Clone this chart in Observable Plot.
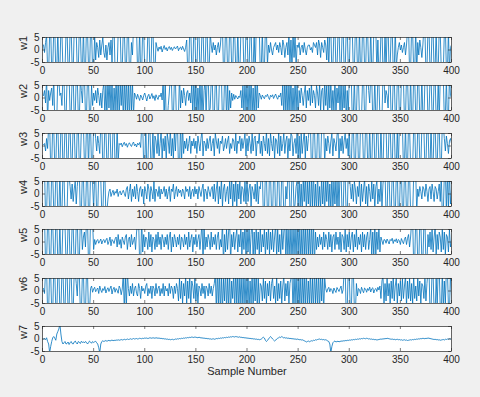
<!DOCTYPE html>
<html><head><meta charset="utf-8">
<script src="https://cdn.jsdelivr.net/npm/d3@7"></script>
<script src="https://cdn.jsdelivr.net/npm/@observablehq/plot@0.6"></script>
<style>
body{margin:0;background:#f0f0f0;}
#fig{position:relative;width:480px;height:397px;background:#f0f0f0;overflow:hidden;font-family:"Liberation Sans",Arial,sans-serif;}
#fig > div{position:absolute;left:0;}
</style></head><body><div id="fig"></div>
<script>
const seriesNames = ["w1","w2","w3","w4","w5","w6","w7"];
const xTicks = [0,50,100,150,200,250,300,350,400];
const yTicks = [-5,0,5];
const xLabel = "Sample Number";

const w1 = [2,-1,3,6,-8,-9,7,9,-9,-7, 8,9,-9,-7,8,-9,-8,9,7,-8, -9,-8,7,9,-8,-9,8,9,-7,-9, 8,9,7,-9,-8,9,8,-7,-9,9,
-8,-9,9,8,-7,-9,9,7,-8,-9, 6,-4,3,1,-3,4,-2,2,5,-1, -3,2,-4,1,3,-2,4,-5,8,9, -9,-8,-9,7,9,8,-9,-7,8,9,
-7,-9,8,9,-9,-8,3,-2,9,8, 9,8,-9,-7,8,-9,-8,9,7,-8, -9,-8,7,9,-8,-9,8,9,-7,-9, 3,1,-.5,1.2,.3,1.5,-.8,.6,1.8,.2,
1,-.4,.9,1.4,.2,1.1,-.2,.7,1.3,.4, .9,1.6,-.3,.8,1.2,.1,1.5,.4,-.6,1.1, 4,-8,-9,9,8,-7,-9,9,7,-8, -9,9,8,-9,-7,8,9,-8,-9,9,
8,-9,-8,7,2,-1,3,0,2,-2, 1,3,-1,2,8,9,-9,-8,9,7, -8,-9,9,8,-7,-9,9,7,-8,-9, 9,-8,-9,7,9,8,-9,-7,8,9,
-7,-9,8,9,-9,-8,7,-9,8,9, 9,8,-9,-7,8,-9,-8,9,7,-6, 2,-1,3,0,-2,1,2,3,0,2, -1,3,1,-2,4,2,-3,1,3,-2,
7,-6,4,-8,8,-3,6,-7,2,1, 3,-2,1,2,-1,3,0,-2,1,2, 2,0,1,-1,3,2,1,3,-2,4, 2,-3,3,1,-1,4,2,-4,6,-8,
9,8,-9,-7,8,9,-9,-8,7,9, -8,-9,7,9,-8,-9,8,9,-7,-9, 8,9,7,-9,-8,9,8,-7,-9,9, -8,-9,9,8,-7,-9,9,7,-8,-9,
9,-8,-9,7,9,8,-9,4,-9,-8, 7,9,-9,-8,7,-9,8,9,-9,-7, 8,9,-9,-8,9,-7,-2,1,3,0, 2,-1,1,3,-2,2,8,9,-9,-8,
9,7,-8,-9,9,-9,3,-2,4,1, -3,2,9,8,-9,-7,8,9,-9,-8, 9,8,-9,-7,8,-9,-8,9,7,-8, -9,-8,7,9,-8,-9,8,-9,1,2];

const w2 = [1,3,-2,8,-9,3,-1,2,4,-3, 8,-9,-7,-8,9,7,1,2,-3,9, 8,-8,-9,7,8,9,-7,-8,9,9, -8,-7,9,8,-7,-9,8,3,-2,8,
9,-7,-8,9,7,-8,-6,5,-3,2, -1,3,-2,4,1,-3,2,-4,3,6, -7,5,-8,9,-4,7,-6,8,-9,4, -5,8,-7,9,-8,6,-3,7,-9,8,
-6,9,-8,7,-9,8,-5,6,-7,2, 1,-.5,1.5,.2,-1,1.2,.4,-.8,1,2, .3,-1.2,.8,1.5,-.4,.6,1.8,-.2,.9,-1, 1.3,.2,-.6,1.1,.5,2,-.8,8,-9,7,
-8,-9,-3,2,9,8,-7,-9,8,7, -9,-8,-6,9,-4,3,-2,4,1,-3, 2,3,-1,2,-2,6,-7,8,-5,7, -8,4,-6,9,-7,5,-8,3,7,-6,
8,9,-6,-4,7,8,-9,-9,8,7, -9,-8,7,9,8,-9,-9,7,8,-9, 7,-8,3,-4,2,-1,1.5,-.5,1,.3, -.4,.8,.2,3,-4,5,-6,7,-5,6,
-8,7,-6,9,-7,4,-8,6,-5,8, -4,2,1,-.5,1.2,.4,-.3,1,.6,1.5, .2,-.6,1.1,.5,1.3,-.2,.8,1.6,.3,-.5, 1,.4,2,-3,6,-8,9,-7,8,-9,
7,-6,9,-8,4,-7,8,-5,6,-9, 3,-2,4,1,-3,2,5,-4,3,-1, 4,-3,6,-2,3,1,-4,5,2,-3, 6,-5,3,4,-6,7,-3,5,-8,6,
-4,7,-6,3,-5,8,-7,4,-2,6, -7,9,-8,5,-4,8,-9,3,-6,7, 9,8,-9,-7,8,-9,-8,9,7,-8, -9,-8,7,9,-8,-9,8,9,3,-2,
9,8,-9,-7,8,-9,-8,9,7,-8, -9,-8,9,9,-2,3,1,-4,8,9, -9,-8,7,9,-8,-9,8,9,-7,-9, 8,9,7,-9,-8,9,8,-7,-9,9,
-8,-9,9,8,-7,-9,9,7,-8,-9, 9,-8,-9,7,9,8,-9,-7,8,9, -7,-9,8,9,-9,-8,7,-9,8,9, 9,8,-9,-7,8,-9,-8,9,1,0];

const w3 = [.5,1,-2,3,-1,8,9,-9,-8,9, 7,-8,-9,9,8,-7,-9,8,9,-9, -7,8,9,-9,-8,9,7,-8,-7,9, 8,-7,-9,8,9,-9,-8,7,9,8,
-7,-9,8,8,-9,7,8,-9,-7,8, 9,3,-2,4,1,-3,8,9,-9,-8, 9,7,-8,-9,9,8,-7,-9,8,9, -9,-7,8,-6,1,.5,1.2,-.3,.8,1.5,
.2,1,-.5,.7,1.3,.4,-.2,.9,1.6,.1, .8,-.4,1.1,.5,1.4,-.6,8,9,-9,-8, 9,-9,-8,7,9,-8,-6,7,-9,4, 2,-3,5,-4,1,6,-5,3,-2,4,
-6,5,2,-3,7,-4,3,-5,6,-2, 8,9,-9,-8,9,-7,8,-3,2,-1, 3,-2,1,4,-3,2,0,3,-1,2, -3,4,1,-2,3,6,-4,2,1,-2,
3,-1,2,4,-2,1,3,-4,5,2, -1,3,-3,2,1,4,-2,0,3,-1, 2,4,-3,1,-1,3,2,-2,5,-3, 2,1,4,-2,3,-1,2,5,-4,3,
-2,4,1,-3,5,-2,3,4,-4,2, 1,5,-3,2,-4,4,1,-2,6,-3, 3,-4,5,1,-2,4,-5,3,2,-3, 6,-4,4,-2,1,5,-3,2,4,-5,
3,-2,5,4,-4,1,3,-3,6,-5, 4,-6,5,-3,2,6,-5,4,-2,3, 8,9,-9,-8,9,7,-8,-9,7,8, -9,-8,7,9,8,-7,3,-2,4,1,
-3,2,5,-4,3,1,-2,4,8,-7, 3,-2,4,-3,2,5,-1,3,-4,8, -9,-8,7,9,-8,-9,8,9,-7,-9, 8,9,7,-9,-8,9,8,-7,-9,9,
-8,-9,9,8,-7,-9,9,7,-8,-9, 9,-8,-9,7,9,8,-9,-7,8,9, -7,-9,8,9,-9,-8,7,-9,8,9, 9,8,-9,-7,8,-9,-8,9,7,-8,
-9,-8,7,9,-8,-9,8,9,-7,-9, 8,9,7,-9,-8,9,8,-7,-9,9, -8,-9,9,8,-7,-9,9,7,-8,-9, 9,8,3,-2,4,1,-3,2,3,1];

const w4 = [8,9,-9,-8,9,7,-8,-9,9,8, -7,-9,8,9,-9,-8,9,-9,-7,8, 8,-9,-7,-8,9,7,3,-2,4,-3, 2,5,-4,3,8,9,-9,-8,9,7,
-8,-9,7,9,-9,-9,8,7,4,-6, 7,8,-9,-7,8,9,6,-8,-9,7, 8,-9,-7,-2,1,2,-1,.5,1.5,-.5, 1,.3,2,-1,.8,1.2,-.4,.6,1.5,.2,
-1,2,3,-2,1,4,-3,2,-1,3, -2,4,1,-3,2,3,-1,2,-4,3, 1,-2,4,2,-3,3,1,-2,5,-3, 2,1,-1,3,-2,2,0,1,3,-1,
2,-2,1,3,-3,2,1,4,-2,1, 3,-1,2,.5,1.5,-1,2,1,-2,3, 1,2,-1,3,-2,1,2,-1,3,0, 2,-2,3,1,-1,2,4,-3,2,1,
-2,3,1,-1,2,3,-2,4,-3,2, 5,-4,3,-2,6,-5,2,4,-3,1, 3,-4,5,-2,7,-6,4,-3,6,-5, 4,-2,5,-4,3,2,-3,5,-4,6,
-3,2,4,-5,3,1,-2,4,-3,5, -4,3,2,8,9,-9,-8,9,7,-8, -9,9,8,-7,-9,8,9,-9,-8,8, 9,-7,-8,9,7,-8,-9,3,-2,8,
9,-7,-8,9,8,-7,-4,3,5,-6, 7,-5,4,-8,6,-3,8,-7,5,-4, 6,-8,7,-5,9,-6,4,-7,8,-5, 3,-6,7,-4,5,-8,6,-3,7,-5,
4,-7,8,-6,5,-4,7,-8,6,-5, 8,9,-9,-8,9,7,-8,-9,9,8, 3,-2,4,-3,5,2,-4,3,-1,6, -5,4,-3,2,6,-4,3,-5,4,1,
-3,5,-2,4,-6,3,5,-4,2,-3, 6,-5,4,8,9,-9,-8,9,7,-8, -9,9,8,-7,-9,8,9,-9,-8,8, 9,-7,-8,9,7,-8,-9,9,8,-7,
-9,-8,7,9,8,-7,2,-1,3,1, -2,3,2,-1,4,1,-3,2,3,-2, 4,1,-3,3,2,-2,1,4,-3,8, -9,-7,8,9,-7,8,-6,9,-4,2];

const w5 = [8,9,-9,-8,9,7,-8,-9,9,8, -7,-9,8,9,-9,-8,8,-9,-7,8, 9,7,-8,-9,7,8,-9,-9,8,7, -9,-8,7,9,-8,-8,9,7,-3,2,
4,-2,8,9,-9,-8,9,7,8,-3, 1,-1,.5,1,-.5,.3,1.2,-.8,.6,1, -.3,.8,1.5,-1,.2,2,-1.5,1,.4,-.6, 1.3,2,-2,3,-1,1,-2.5,2,.5,-1,
2,3,-3,1,2,-2,3,-1,.5,2, -3,4,8,9,-9,-8,9,-4,3,-2, 2,1,-3,4,-2,3,-4,2,1,-3, 3,-2,4,-1,2,-3,3,1,-2,2,
-1,3,-3,2,4,-4,2,-2,3,1, -2,2,-1,3,-3,2,1,-2,3,-1, 2,-3,4,-2,1,3,-4,2,-1,3, -2,1,3,-3,2,8,-9,7,-3,2,
-2,3,1,-3,4,-2,2,-1,3,-3, 2,4,-3,1,-2,8,-9,3,-4,5, -3,4,9,-8,3,-2,4,-3,2,5, -4,3,-2,6,-5,4,-3,8,-7,5,
-4,6,-5,3,9,-8,4,-6,5,-3, 4,-5,6,-4,3,-2,5,-6,4,-3, 6,-5,4,-3,5,-4,2,7,-6,5, -4,3,-5,6,-3,4,8,-9,7,-6,
5,-7,8,-9,6,-5,7,-8,9,-6, 8,-7,5,-8,9,-6,7,-9,8,-5, 6,-8,9,-7,8,-9,4,-3,2,-2, 3,-1,2,-3,4,-2,3,1,-3,4,
-2,3,-4,2,3,-3,4,-1,2,-3, 4,-4,3,2,-3,5,-4,3,-2,4, -3,2,4,-4,3,-2,5,-3,2,-1, 3,-4,4,-2,3,-3,2,4,-3,1,
6,-5,4,-6,7,-5,4,-3,6,-4, 2,.5,-1,1,.8,-.5,1.2,.3,-.8,1, .5,1.5,-.6,.9,.2,1.3,-.4,1,.6,-1, 1.4,.3,-.7,1.1,2,-1,1.5,3,-2,2,
8,9,-9,-8,9,7,-8,-9,9,8, -7,-9,8,9,-9,-8,3,-2,4,-3, 5,-4,2,6,-5,3,-3,4,2,-4, 5,-3,4,-5,3,2,-4,5,-2,1];

const w6 = [1,-1,8,9,-9,-8,9,7,-8,-9, 9,8,-7,-9,8,9,-9,-8,8,9, -7,-8,9,9,-8,-7,9,8,-7,-9, 8,8,3,-2,9,7,-8,-9,7,8,
-9,-9,8,7,-9,-8,1,2,-.5,.8, 1.5,-.3,.6,1.2,-1,2,.4,-.6,1,.2, 1.8,-.8,.5,1.3,-.2,1,2,-1.2,.7,1.5, -.5,1,.3,-.9,2,1,-1.5,.8,7,-8,
6,-7,8,1,-2,2,-1,3,-2,1, 2,-1,-2,3,1,-3,2,0,1,-1, 2,3,-2,1,-1,2,-3,2,1,-2, 3,-1,1,2,-2,1,-1,3,-2,2,
0,1,-2,3,-1,2,1,-3,2,-1, 3,1,-4,5,-3,4,-5,3,-2,6, -5,4,-3,5,-6,4,2,-3,5,-4, 3,-5,2,1,-2,3,-1,2,-3,2,
1,-2,3,-1,2,-2,1,3,7,-8, 9,-7,8,-9,7,-8,5,-4,9,-8, 6,-7,8,-9,4,-3,7,-8,9,-6, 8,-9,7,-5,6,-8,9,-7,5,-6,
8,-9,4,-5,7,-8,6,-4,9,-7, 5,-6,3,2,-4,5,-3,4,-5,3, -2,4,-4,3,5,-3,2,-5,6,-4, 3,-3,4,-5,2,6,-4,3,-2,4,
-5,3,5,8,-9,7,-6,9,-8,5, -7,8,-9,6,-5,7,-8,9,-6,4, -6,8,-7,5,-8,9,-5,6,-7,8, -9,7,-4,6,-8,5,1,-.5,.8,1.5,
-.3,1,.5,-1,1.2,.2,-.6,1.4,.6,-.2, 1,2,-1,.5,8,9,-9,-8,9,7, -8,-9,9,8,-7,-9,3,-2,1,.5, -1,1.5,.3,-.7,1.2,.8,-.5,1,.2,1.6,
-.4,.9,1.3,-.8,.6,1,-.2,1.5,.4,2, -3,4,6,-5,3,-4,5,-2,3,-5, 4,-3,6,-4,2,5,-5,3,-2,4, -4,5,-3,2,6,-6,4,-3,5,-4,
3,-5,6,-3,2,-4,5,-2,4,-5, 3,2,-3,5,-4,3,8,9,-9,-8, 9,7,-8,-9,5,-6,9,8,-7,-9, 8,-7,4,-5,9,8,-6,-9,8,-2];

const w7 = [0,.2,-.3,.5,-1,-2,-5.5,-3,-1,.5, 1,.3,-.5,2,3,4,6,2,-1,-2, -1.5,-1,-2,-1.8,-1.2,-2.2,-1.5,-1,-1.8,-2, -1.2,-.8,-1.5,-2,-1,-1.3,-1.8,-.9,-1.4,-1.1,
-1.6,-1,-1.3,-2,-1.5,-.8,-1.2,-1.7,-1,-1.4, -1.1,-.9,-1.5,-2,-3.5,-5.5,-2,-1,-.7,-1, -.8,-.6,-.9,-.7,-.5,-.8,-.6,-.4,-.7,-.5, -.6,-.4,-.5,-.3,-.5,-.4,-.2,-.4,-.3,-.1,
-.3,-.2,0,-.2,-.1,.1,-.1,0,.2,0, .1,.2,0,.1,.3,.2,.1,.3,.2,.4, .3,.4,.2,.3,.5,.4,.3,.5,.4,.3, .5,.4,.3,.4,.2,.3,.1,.2,0,.1,
-.1,0,-.2,-.1,-.3,-.2,-.1,-.3,-.2,0, -.1,.1,0,.2,.1,.3,.2,.4,.3,.5, .4,.6,.5,.7,.6,.8,.7,.6,.8,.7, .6,.5,.7,.6,.4,.5,.3,.4,.2,.3,
.1,.2,0,.1,-.1,0,.1,-.1,0,.2, .1,.3,.2,.4,.3,.5,.4,.6,.5,.7, .6,.8,.7,.9,.8,1,.9,.8,1,.9, .8,.7,.9,.6,.7,.5,.6,.4,.5,.3,
.4,.2,.3,.1,.2,0,.1,-.1,0,-.2, -.1,-.3,-.2,0,.3,.8,.4,-.5,-1,-.6, 0,.5,1,.6,0,-.4,-.8,-.5,0,.3, .5,.8,.6,1,.7,.4,.6,.3,.5,.2,
.4,.1,.3,0,.2,-.1,.1,-.2,0,-.1, -.3,-.2,-.4,-.3,-.5,-.7,-.9,-1.2,-1,-.8, -1.1,-.9,-.7,-.8,-.5,-.6,-.3,-.4,-.2,-.1, 0,-.2,-.1,-.3,-.2,-.4,-.3,-.5,-.8,-1,
-2,-5.5,-3,-1.5,-1,-.8,-1.2,-1,-.9,-1.1, -1,-.8,-.9,-.7,-.8,-.6,-.7,-.5,-.6,-.4, -.5,-.3,-.4,-.2,-.3,-.1,-.2,0,-.1,.1, 0,.2,.1,.3,.2,.1,.3,.2,0,.1,
-.1,0,-.2,-.1,-.3,-.2,-.4,-.3,-.2,-.1, 0,-.1,.1,0,.2,.1,.3,.2,.1,0, -.1,0,-.2,-.1,-.3,-.2,-.1,-.3,-.2,-.4, -.3,-.5,-.4,-.3,-.5,-.4,-.6,-.5,-.4,-.3,
-.4,-.2,-.3,-.1,-.2,0,-.1,.1,0,.2, .1,.3,.2,.1,.3,.2,.4,.3,.2,.1, 0,-.1,-.2,-.1,-.3,-.2,-.4,-.3,-.5,-.4, -.3,-.2,-.4,-.1,-.2,0,-.1,.1,0,.1];

const series = [w1,w2,w3,w4,w5,w6,w7];
const fig = document.getElementById("fig");
const font = "'Liberation Sans', Arial, Helvetica, sans-serif";
const ink = "#262626";
const top0 = 36.5, step = 48.2, plotH = 25, mL = 42, mR = 29, W = 480;
const innerW = W - mL - mR;

series.forEach((vals, i) => {
  const last = i === series.length - 1;
  const mB = last ? 40 : 22;
  const data = vals.map((v, j) => ({x: j + 1, y: v}));
  const chart = Plot.plot({
    width: W, height: 1 + plotH + mB,
    marginTop: 1, marginBottom: mB, marginLeft: mL, marginRight: mR,
    style: {background: "transparent", fontFamily: font, fontSize: "10px", color: ink, overflow: "visible"},
    x: {domain: [0, 400]},
    y: {domain: [-5, 5]},
    marks: [
      Plot.frame({fill: "white", stroke: null}),
      Plot.line(data, {x: "x", y: "y", stroke: "#0072BD", strokeWidth: 0.8, clip: true}),
      Plot.tickX(xTicks, {x: d => d, stroke: ink, strokeWidth: 0.6, insetTop: plotH - 3}),
      Plot.tickX(xTicks, {x: d => d, stroke: ink, strokeWidth: 0.6, insetBottom: plotH - 3}),
      Plot.tickY(yTicks, {y: d => d, stroke: ink, strokeWidth: 0.6, insetRight: innerW - 3}),
      Plot.tickY(yTicks, {y: d => d, stroke: ink, strokeWidth: 0.6, insetLeft: innerW - 3}),
      Plot.frame({stroke: ink, strokeWidth: 0.7}),
      Plot.axisX({ticks: xTicks, tickSize: 0, tickPadding: 4, tickFormat: d => String(d), label: null, fontSize: 10}),
      Plot.axisY({ticks: yTicks, tickSize: 0, tickPadding: 3, tickFormat: d => String(d), label: null, fontSize: 10}),
      Plot.text([seriesNames[i]], {text: d => d, frameAnchor: "left", rotate: -90, dx: -19, fontSize: 11, fill: ink}),
      last ? Plot.text([xLabel], {text: d => d, frameAnchor: "bottom", dy: 23, fontSize: 11, fill: ink}) : null
    ]
  });
  const wrap = document.createElement("div");
  wrap.style.top = (top0 + i * step - 1) + "px";
  wrap.appendChild(chart);
  fig.appendChild(wrap);
});
</script></body></html>
